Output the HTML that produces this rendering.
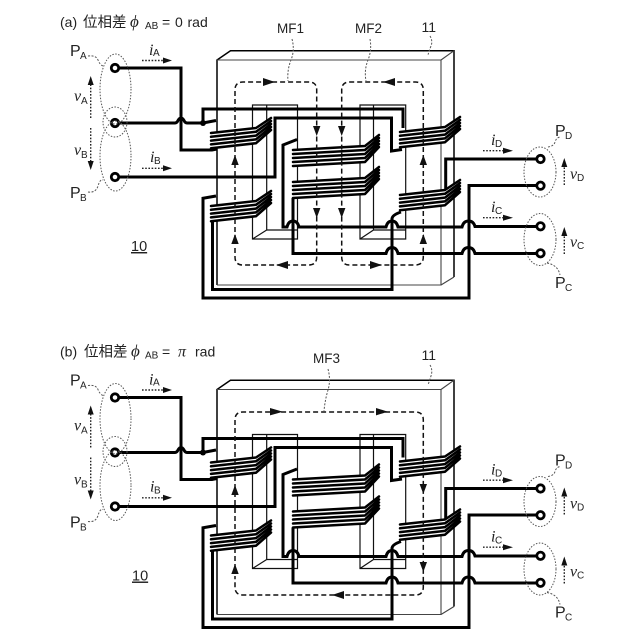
<!DOCTYPE html>
<html><head><meta charset="utf-8"><style>
html,body{margin:0;padding:0;background:#fff}
svg{display:block}
text{font-family:"Liberation Sans","Noto Sans CJK JP",sans-serif;fill:#222}
.m{font-size:14px}
.p{font-size:16px}
.s{font-size:10px}
.it{font-family:"Liberation Serif",serif;font-style:italic;font-size:16px}
.w{fill:none;stroke:#000;stroke-width:3;stroke-linejoin:miter}
.t{fill:none;stroke:#111;stroke-width:1.2}
.g{fill:none;stroke:#444;stroke-width:1.1}
.d{fill:none;stroke:#111;stroke-width:1.5;stroke-dasharray:5 3}
.o{fill:none;stroke:#222;stroke-width:1.4;stroke-dasharray:1.6 1.6}
.e{fill:none;stroke:#555;stroke-width:1;stroke-dasharray:1.5 1.5}
.l{fill:none;stroke:#555;stroke-width:1;stroke-dasharray:2 1.5}
.c{fill:none;stroke:#000;stroke-width:2.5;stroke-linecap:round;stroke-linejoin:round}
</style></head><body>
<svg width="640" height="640" viewBox="0 0 640 640" xmlns="http://www.w3.org/2000/svg">
<defs>
<g id="coil">
<path d="M0 0L45 -5L60 -15V-3L45 11L0 15.2Z" fill="#fff"/>
<path class="c" d="M0 0L45 -5L60 -15M0 3.8L45 -1.2L60 -12M0 7.6L45 2.6L60 -9M0 11.4L45 6.4L60 -6M0 15.2L45 10.2L60 -3"/>
</g>
<g id="coilm">
<path d="M0 0L72 -4L86 -15V-3L72 12L0 16Z" fill="#fff"/>
<path class="c" d="M0 0L72 -4L86 -15M0 4L72 0L86 -12M0 8L72 4L86 -9M0 12L72 8L86 -6M0 16L72 12L86 -3"/>
</g>
<g id="base">
<path d="M217 285V60L230.5 50.7H454V277" fill="none" stroke="#000" stroke-width="1.5"/>
<path class="g" d="M217 60H441V285H217M441 60L454 50.7M441 285L454 277"/>
<path class="t" d="M252.5 239V105H297.5V239ZM266.7 105V230H297.5M252.5 239L266.7 230"/>
<path class="t" d="M360 239V105H405.7V239ZM373.5 105V230H405.7M360 239L373.5 230"/>
<path class="w" d="M115 68H181V150H212L217 149"/>
<path class="w" d="M115 123H175Q177 123 178 120.5Q181 115.5 184 120.5Q185 123 187 123H203L216 120.5"/>
<path class="w" d="M203 123V109H403V128"/>
<path class="w" d="M115 177H275V118H391.5V151L402 149.5"/>
<path class="w" d="M297 139.5L283 145V227H287Q288.5 221 293 221Q297.5 221 299 227H386Q387.5 221 392 221Q396.5 221 398 227H462Q463.5 221 468.5 221Q473.5 221 475 226.5H540"/>
<path class="w" d="M293 198V253.5H386Q387.5 247.5 392 247.5Q396.5 247.5 398 253.5H462Q463.5 247.5 468.5 247.5Q473.5 247.5 475 253.5H540"/>
<path class="w" d="M212.5 220V289.5H392V219Q392 215 401 212"/>
<path class="w" d="M216 196L203 198.3V298H469V185.5H540"/>
<path class="w" d="M540 159H445.7V190"/>
<use href="#coil" x="211" y="133"/>
<use href="#coil" x="211" y="206"/>
<use href="#coil" x="400" y="132"/>
<use href="#coil" x="400" y="195"/>
<use href="#coilm" x="293" y="150"/>
<use href="#coilm" x="293" y="182"/>
<g fill="#fff" stroke="#000" stroke-width="2.8">
<circle cx="115" cy="68" r="3.7"/><circle cx="115" cy="123" r="3.7"/><circle cx="115" cy="177" r="3.7"/>
<circle cx="540.5" cy="159" r="3.7"/><circle cx="540.5" cy="185.7" r="3.7"/>
<circle cx="540.5" cy="226.3" r="3.7"/><circle cx="540.5" cy="253.3" r="3.7"/>
</g>
<circle cx="203" cy="123" r="3" fill="#000"/>
<ellipse class="e" cx="115.5" cy="89" rx="15.5" ry="35"/>
<ellipse class="e" cx="115.5" cy="156" rx="15.5" ry="35"/>
<ellipse class="e" cx="115" cy="122" rx="12" ry="15"/>
<ellipse class="e" cx="540" cy="172" rx="16" ry="25"/>
<ellipse class="e" cx="540" cy="239.5" rx="16" ry="26"/>
<path class="l" d="M88 56Q96 55 98 60T103 66"/>
<path class="l" d="M88 192Q96 193 98 186T103 180"/>
<path class="l" d="M548 147Q554 146 555 142T560 137"/>
<path class="l" d="M547 263Q558 265 560 275"/>
<path class="o" d="M142 60.5H164M142 168.3H164M483 150.7H504M483 217.7H504"/>
<path d="M163 57.5L172 60.5L163 63.5ZM163 165.3L172 168.3L163 171.3ZM503 147.7L513 150.7L503 153.7ZM503 214.7L513 217.7L503 220.7Z" fill="#111"/>
<path class="o" d="M90.7 118V84M90.7 128V162M564.3 185V166M564.3 254V235"/>
<path d="M87.7 85L90.7 76L93.7 85ZM87.7 161L90.7 170L93.7 161ZM561.3 167L564.3 158L567.3 167ZM561.3 236L564.3 227L567.3 236Z" fill="#111"/>
</g>
</defs>

<use href="#base"/>
<use href="#base" y="329.5"/>

<path class="d" d="M235 240V90Q235 82 243 82H308.7Q316.7 82 316.7 90V257Q316.7 265 308.7 265H243Q235 265 235 257V245"/>
<path class="d" d="M423.3 240V90Q423.3 82 415.3 82H349.7Q341.7 82 341.7 90V257Q341.7 265 349.7 265H415.3Q423.3 265 423.3 257V245"/>
<path d="M263 78L275 82L263 86ZM395 78L383 82L395 86ZM288 261L276 265L288 269ZM370 261L382 265L370 269Z" fill="#111"/>
<path d="M313 126L316.7 136L320.4 126ZM313 208L316.7 218L320.4 208ZM338 126L341.7 136L345.4 126ZM338 208L341.7 218L345.4 208Z" fill="#111"/>
<path d="M231.3 165L235 155L238.7 165ZM231.3 244L235 234L238.7 244ZM419.6 165L423.3 155L427 165ZM419.6 244L423.3 234L427 244Z" fill="#111"/>
<path class="l" d="M292 39Q295 50 291 60T288 81M370 39Q372 50 368 60T366 81M430 36Q433 41 431 46T428 55"/>

<path class="d" d="M235 569V420Q235 412 243 412H415.3Q423.3 412 423.3 420V587Q423.3 595 415.3 595H243Q235 595 235 587V576"/>
<path d="M270 408L283 411.7L270 415.4ZM376 408L388 411.7L376 415.4ZM344 591L332 595L344 599Z" fill="#111"/>
<path d="M231.3 495L235 485L238.7 495ZM231.3 574L235 564L238.7 574ZM419.6 484L423.3 494L427 484ZM419.6 562L423.3 572L427 562Z" fill="#111"/>
<path class="l" d="M328 369Q331 380 328 390T324 411M430 365Q433 370 431 376T428 385"/>

<text class="m" x="60" y="27">(a)</text>
<text class="m" x="83" y="27" style="font-size:14.5px">位相差</text>
<text class="it" x="130" y="27" style="font-size:17px">ϕ</text>
<text class="s" x="145" y="29">AB</text>
<text class="m" x="162" y="27">=</text>
<text class="m" x="175" y="27">0</text>
<text class="m" x="187.5" y="27">rad</text>
<text class="m" x="277" y="33" style="font-size:13.5px">MF1</text>
<text class="m" x="355" y="33" style="font-size:13.5px">MF2</text>
<text class="m" x="421.5" y="32">11</text>
<text class="p" x="70" y="56">P</text><text class="s" x="80" y="59">A</text>
<text class="p" x="70" y="198">P</text><text class="s" x="80" y="201">B</text>
<text class="p" x="555" y="136">P</text><text class="s" x="565" y="139">D</text>
<text class="p" x="555" y="288">P</text><text class="s" x="565" y="291">C</text>
<text class="it" x="149" y="55">i</text><text class="s" x="153" y="56">A</text>
<text class="it" x="150" y="162">i</text><text class="s" x="154" y="164">B</text>
<text class="it" x="491" y="145">i</text><text class="s" x="495" y="147">D</text>
<text class="it" x="491" y="212">i</text><text class="s" x="495" y="214">C</text>
<text class="it" x="74" y="101">v</text><text class="s" x="81" y="104">A</text>
<text class="it" x="74" y="155">v</text><text class="s" x="81" y="158">B</text>
<text class="it" x="570" y="179">v</text><text class="s" x="577" y="181">D</text>
<text class="it" x="570" y="247">v</text><text class="s" x="577" y="249">C</text>
<text class="m" x="131" y="251" style="font-size:14.5px;text-decoration:underline">10</text>

<text class="m" x="60" y="356.5">(b)</text>
<text class="m" x="84" y="356.5" style="font-size:14.5px">位相差</text>
<text class="it" x="131" y="356.5" style="font-size:17px">ϕ</text>
<text class="s" x="145" y="358.5">AB</text>
<text class="m" x="162" y="356.5">=</text>
<text class="it" x="178" y="356.5">π</text>
<text class="m" x="195" y="356.5">rad</text>
<text class="m" x="313" y="363" style="font-size:13.5px">MF3</text>
<text class="m" x="421.5" y="360">11</text>
<text class="p" x="70" y="385.5">P</text><text class="s" x="80" y="388.5">A</text>
<text class="p" x="70" y="527.5">P</text><text class="s" x="80" y="530.5">B</text>
<text class="p" x="555" y="465.5">P</text><text class="s" x="565" y="468.5">D</text>
<text class="p" x="555" y="617.5">P</text><text class="s" x="565" y="620.5">C</text>
<text class="it" x="149" y="384.5">i</text><text class="s" x="153" y="385.5">A</text>
<text class="it" x="150" y="491.5">i</text><text class="s" x="154" y="493.5">B</text>
<text class="it" x="491" y="474.5">i</text><text class="s" x="495" y="476.5">D</text>
<text class="it" x="491" y="541.5">i</text><text class="s" x="495" y="543.5">C</text>
<text class="it" x="74" y="430.5">v</text><text class="s" x="81" y="433.5">A</text>
<text class="it" x="74" y="484.5">v</text><text class="s" x="81" y="487.5">B</text>
<text class="it" x="570" y="508.5">v</text><text class="s" x="577" y="510.5">D</text>
<text class="it" x="570" y="576.5">v</text><text class="s" x="577" y="578.5">C</text>
<text class="m" x="132" y="580.5" style="font-size:14.5px;text-decoration:underline">10</text>
</svg>
</body></html>
